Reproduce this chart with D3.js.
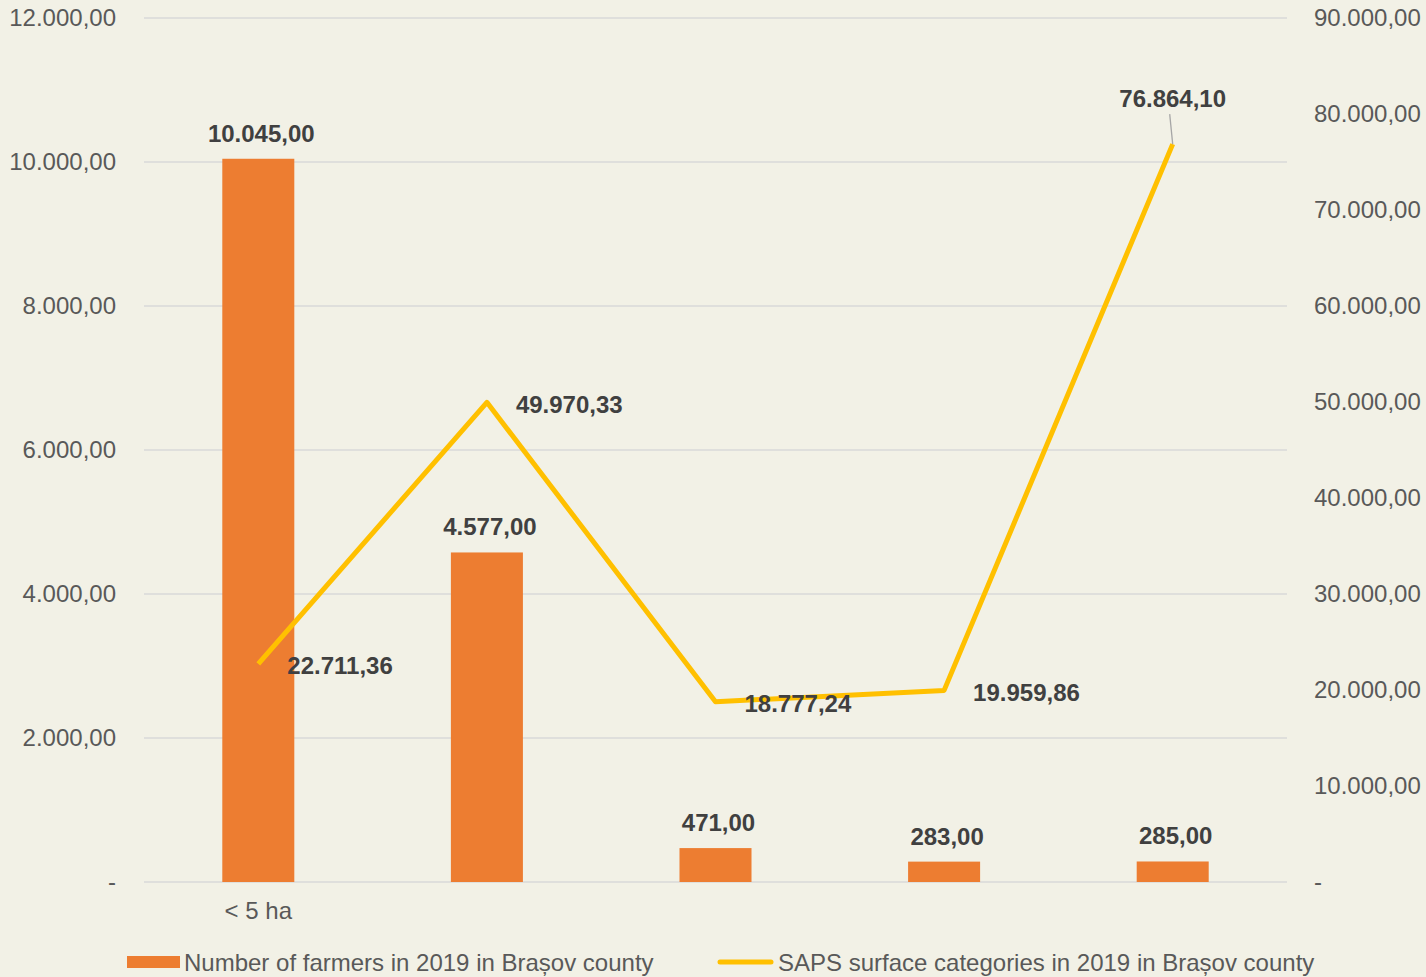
<!DOCTYPE html>
<html>
<head>
<meta charset="utf-8">
<script src="https://cdn.jsdelivr.net/npm/d3@7"></script>
<style>
  html, body { margin: 0; padding: 0; background: #f2f1e6; }
  text { font-family: "Liberation Sans", Arial, sans-serif; }
</style>
</head>
<body>
<div id="chart"></div>
<script>
// Data
const categories = ["< 5 ha", "", "", "", ""];
const farmers = [10045, 4577, 471, 283, 285];
const sapsSurface = [22711.36, 49970.33, 18777.24, 19959.86, 76864.10];
const leftTicks = [0, 2000, 4000, 6000, 8000, 10000, 12000];
const rightTicks = [0, 10000, 20000, 30000, 40000, 50000, 60000, 70000, 80000, 90000];
const seriesNames = ["Number of farmers in 2019 in Brașov county", "SAPS surface categories in 2019 in Brașov county"];

const W = 1426, H = 977;
const margin = { top: 18, right: 139, bottom: 95, left: 144 };
const width = W - margin.left - margin.right,
  height = H - margin.top - margin.bottom;

const locale = d3.formatLocale({ decimal: ",", thousands: ".", grouping: [3], currency: ["", ""] });
const fmt = locale.format(",.2f");
const tickFmt = v => v === 0 ? "-" : fmt(v);

const svg = d3.select("#chart")
  .append("svg")
  .attr("width", W)
  .attr("height", H);

svg.append("rect").attr("width", W).attr("height", H).attr("fill", "#f2f1e6");

const g = svg.append("g").attr("transform", `translate(${margin.left},${margin.top})`);

// Scales
const idx = categories.map((d, i) => i);
const x = d3.scaleBand().domain(idx).range([0, width]).paddingInner(0.685).paddingOuter(0.3425);
const yLeft = d3.scaleLinear().domain([0, 12000]).range([height, 0]);
const yRight = d3.scaleLinear().domain([0, 90000]).range([height, 0]);
const cx = i => x(i) + x.bandwidth() / 2;

// Gridlines
g.selectAll(".grid")
  .data(leftTicks)
  .enter()
  .append("line")
  .attr("x1", 0).attr("x2", width)
  .attr("y1", d => yLeft(d)).attr("y2", d => yLeft(d))
  .attr("stroke", "#d9d9d9")
  .attr("stroke-width", 1.5);

// Left axis
const yAxisLeft = g.append("g")
  .call(d3.axisLeft(yLeft).tickValues(leftTicks).tickFormat(tickFmt).tickSize(0).tickPadding(28));
yAxisLeft.select(".domain").remove();
yAxisLeft.selectAll("text")
  .attr("fill", "#595959")
  .style("font-size", "24px")
  .style("font-family", "Liberation Sans, Arial, sans-serif");

// Right axis
const yAxisRight = g.append("g")
  .attr("transform", `translate(${width},0)`)
  .call(d3.axisRight(yRight).tickValues(rightTicks).tickFormat(tickFmt).tickSize(0).tickPadding(27));
yAxisRight.select(".domain").remove();
yAxisRight.selectAll("text")
  .attr("fill", "#595959")
  .style("font-size", "24px")
  .style("font-family", "Liberation Sans, Arial, sans-serif");

// X axis
const xAxis = g.append("g")
  .attr("transform", `translate(0,${height})`)
  .call(d3.axisBottom(x).tickFormat(i => categories[i]).tickSize(0).tickPadding(20));
xAxis.select(".domain").remove();
xAxis.selectAll("text")
  .attr("fill", "#595959")
  .style("font-size", "24px")
  .style("font-family", "Liberation Sans, Arial, sans-serif");

// Bars
g.selectAll(".bar")
  .data(farmers)
  .enter()
  .append("rect")
  .attr("class", "bar")
  .attr("x", (d, i) => x(i))
  .attr("width", x.bandwidth())
  .attr("y", d => yLeft(d))
  .attr("height", d => height - yLeft(d))
  .attr("fill", "#ed7d31");

// Bar labels
g.selectAll(".bar-label")
  .data(farmers)
  .enter()
  .append("text")
  .attr("x", (d, i) => cx(i) + 3)
  .attr("y", d => yLeft(d) - 17)
  .attr("text-anchor", "middle")
  .attr("fill", "#404040")
  .style("font-size", "24px")
  .style("font-weight", "bold")
  .text(d => fmt(d));

// Line
const line = d3.line()
  .x((d, i) => cx(i))
  .y(d => yRight(d));

g.append("path")
  .datum(sapsSurface)
  .attr("d", line)
  .attr("fill", "none")
  .attr("stroke", "#ffc000")
  .attr("stroke-width", 5)
  .attr("stroke-linejoin", "round");

// Line labels (last one sits above with a leader line)
const last = sapsSurface.length - 1;
g.selectAll(".line-label")
  .data(sapsSurface)
  .enter()
  .append("text")
  .attr("x", (d, i) => i === last ? cx(i) : cx(i) + 29)
  .attr("y", (d, i) => i === last ? yRight(d) - 46 : yRight(d) + 2)
  .attr("dy", "0.35em")
  .attr("text-anchor", (d, i) => i === last ? "middle" : "start")
  .attr("fill", "#404040")
  .style("font-size", "24px")
  .style("font-weight", "bold")
  .text(d => fmt(d));

g.append("line")
  .attr("x1", cx(last) - 3)
  .attr("y1", yRight(sapsSurface[last]) - 30)
  .attr("x2", cx(last))
  .attr("y2", yRight(sapsSurface[last]))
  .attr("stroke", "#a6a6a6")
  .attr("stroke-width", 1.3);

// Legend
const legend = svg.append("g");
legend.append("rect")
  .attr("x", 127).attr("y", 956)
  .attr("width", 53).attr("height", 12)
  .attr("fill", "#ed7d31");
legend.append("text")
  .attr("x", 184).attr("y", 971)
  .attr("fill", "#595959")
  .style("font-size", "24px")
  .text(seriesNames[0]);
legend.append("line")
  .attr("x1", 720).attr("x2", 771)
  .attr("y1", 962).attr("y2", 962)
  .attr("stroke", "#ffc000")
  .attr("stroke-width", 5)
  .attr("stroke-linecap", "round");
legend.append("text")
  .attr("x", 778).attr("y", 971)
  .attr("fill", "#595959")
  .style("font-size", "24px")
  .text(seriesNames[1]);
</script>
</body>
</html>
